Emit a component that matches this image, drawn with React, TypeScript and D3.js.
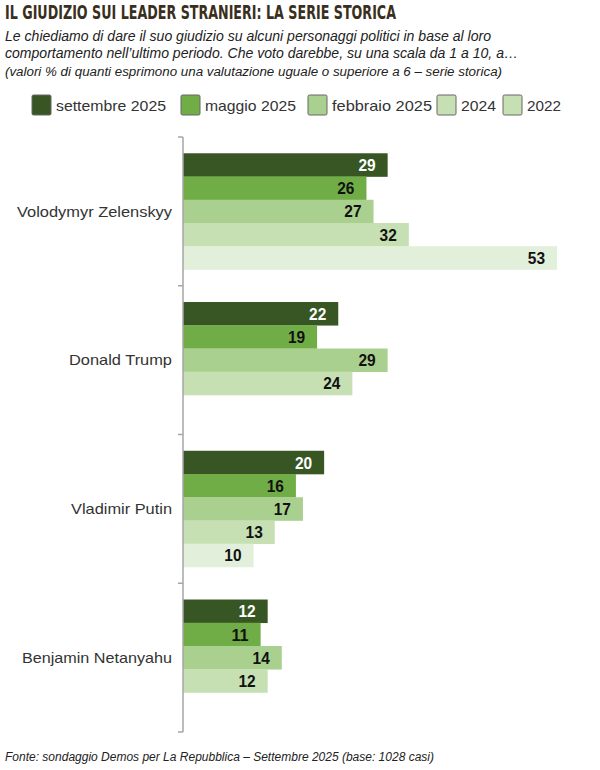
import * as d3 from 'd3';

const leaders = ['Volodymyr Zelenskyy', 'Donald Trump', 'Vladimir Putin', 'Benjamin Netanyahu'];
const series = ['settembre 2025', 'maggio 2025', 'febbraio 2025', '2024', '2022'];
const barColors = ['#375623', '#70ad47', '#a9d08e', '#c6e0b4', '#e2efda'];
const legendColors = ['#375623', '#70ad47', '#a9d08e', '#c6e0b4', '#c6e0b4'];
const labelColors = ['#ffffff', '#111111', '#111111', '#111111', '#111111'];

// one row per leader, in the order of `series`; null = not surveyed
const values: (number | null)[][] = [
  [29, 26, 27, 32, 53],
  [22, 19, 29, 24, null],
  [20, 16, 17, 13, 10],
  [12, 11, 14, 12, null],
];

const W = 600;
const H = 770;
const narrow = '"Liberation Sans Narrow", "Arial Narrow", "DejaVu Sans Condensed", sans-serif';
const sans = '"Liberation Sans", Arial, sans-serif';

export default function App() {
  const x0 = 183;
  const x = d3.scaleLinear().domain([0, 53]).range([x0, 557]);
  const y = d3.scaleBand<string>().domain(leaders).range([137, 732]).padding(0);
  const ys = d3.scaleBand<string>().domain(series).range([0, y.bandwidth()]).paddingInner(0).paddingOuter(0.7);

  const tickYs = [...leaders.map((l) => y(l)!), 732];

  // legend positions (swatch left edges) and text widths as seen in the picture
  const legendX = [32, 181, 308, 437, 503];
  const legendTextLen = [110, 91, 100, 35, 34];
  const leaderTextLen = [155, 103, 101, 150];

  return (
    <svg width={W} height={H} style={{ position: 'absolute', left: 0, top: 0, background: '#fff' }}>
      <text x={5} y={19} fontFamily={narrow} fontWeight="bold" fontSize={19} fill="#3a2e1c" textLength={391} lengthAdjust="spacingAndGlyphs">
        IL GIUDIZIO SUI LEADER STRANIERI: LA SERIE STORICA
      </text>
      <text x={5} y={41} fontFamily={sans} fontStyle="italic" fontSize={14} fill="#222" textLength={486} lengthAdjust="spacingAndGlyphs">
        Le chiediamo di dare il suo giudizio su alcuni personaggi politici in base al loro
      </text>
      <text x={5} y={58} fontFamily={sans} fontStyle="italic" fontSize={14} fill="#222" textLength={513} lengthAdjust="spacingAndGlyphs">
        comportamento nell’ultimo periodo. Che voto darebbe, su una scala da 1 a 10, a…
      </text>
      <text x={5} y={76} fontFamily={sans} fontStyle="italic" fontSize={12.5} fill="#222" textLength={497} lengthAdjust="spacingAndGlyphs">
        (valori % di quanti esprimono una valutazione uguale o superiore a 6 – serie storica)
      </text>

      {series.map((s, i) => (
        <g key={s}>
          <rect x={legendX[i]} y={95} width={19} height={20} rx={1.5} fill={legendColors[i]} stroke="#666" strokeWidth={1} />
          <text x={legendX[i] + 24} y={110.5} fontFamily={sans} fontSize={15} fill="#333" textLength={legendTextLen[i]} lengthAdjust="spacingAndGlyphs">
            {s}
          </text>
        </g>
      ))}

      {leaders.map((leader, li) => (
        <g key={leader} transform={`translate(0,${y(leader)})`}>
          <text
            x={172}
            y={y.bandwidth() / 2}
            dy="0.35em"
            textAnchor="end"
            fontFamily={sans}
            fontSize={15}
            fill="#333"
            textLength={leaderTextLen[li]}
            lengthAdjust="spacingAndGlyphs"
          >
            {leader}
          </text>
          {series.map((s, si) => {
            const v = values[li][si];
            if (v == null) return null;
            return (
              <g key={s}>
                <rect x={x0} y={ys(s)} width={x(v) - x0} height={ys.bandwidth() + 0.3} fill={barColors[si]} />
                <text
                  x={x(v) - 12}
                  y={ys(s)! + ys.bandwidth() / 2}
                  dy="0.36em"
                  textAnchor="end"
                  fontFamily={sans}
                  fontWeight="bold"
                  fontSize={17}
                  fill={labelColors[si]}
                  textLength={String(v).length * 8.6}
                  lengthAdjust="spacingAndGlyphs"
                >
                  {v}
                </text>
              </g>
            );
          })}
        </g>
      ))}

      <line x1={x0} x2={x0} y1={137} y2={732} stroke="#a6a6a6" strokeWidth={1.5} />
      {tickYs.map((t) => (
        <line key={t} x1={x0 - 5} x2={x0} y1={t} y2={t} stroke="#a6a6a6" strokeWidth={1.5} />
      ))}

      <text x={5} y={761} fontFamily={sans} fontStyle="italic" fontSize={12.5} fill="#222" textLength={429} lengthAdjust="spacingAndGlyphs">
        Fonte: sondaggio Demos per La Repubblica – Settembre 2025 (base: 1028 casi)
      </text>
    </svg>
  );
}
